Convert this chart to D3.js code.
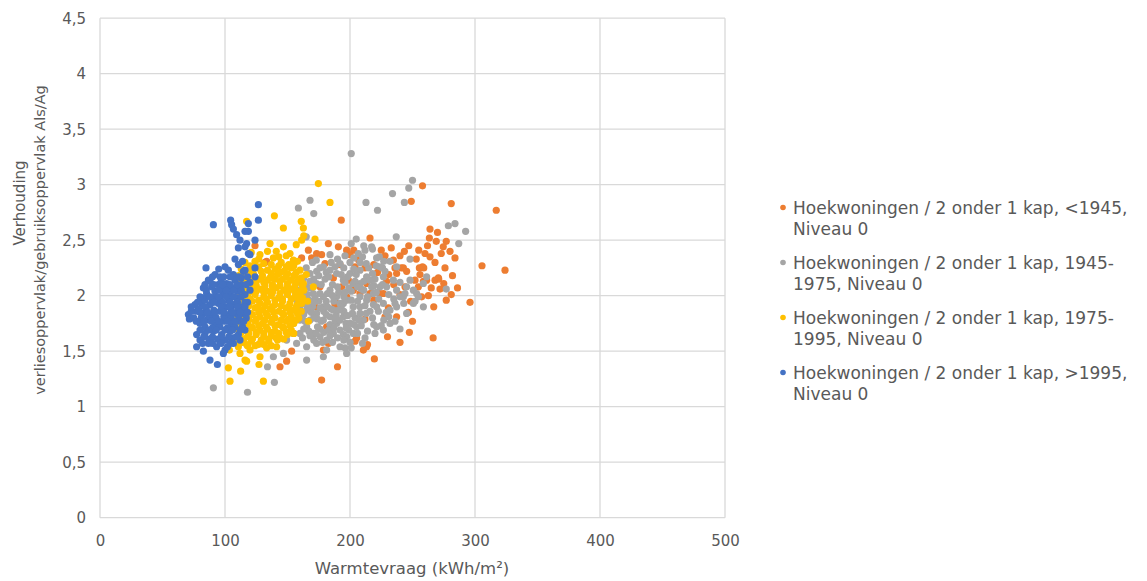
<!DOCTYPE html>
<html>
<head>
<meta charset="utf-8">
<script src="https://cdn.jsdelivr.net/npm/d3@7"></script>
<style>
body { margin: 0; background: #fff; }
text { font-family: Verdana, "DejaVu Sans", sans-serif; }
</style>
</head>
<body>
<svg width="1147" height="581"></svg>
<script>
// tick values and labels
var xTicks = [0, 100, 200, 300, 400, 500];
var yTicks = [0, 0.5, 1, 1.5, 2, 2.5, 3, 3.5, 4, 4.5];
var xTitle = "Warmtevraag (kWh/m²)";
var yTitle = ["Verhouding", "verliesoppervlak/gebruiksoppervlak Als/Ag"];

var seriesNames = [
  ["Hoekwoningen / 2 onder 1 kap, <1945,", "Niveau 0"],
  ["Hoekwoningen / 2 onder 1 kap, 1945-", "1975, Niveau 0"],
  ["Hoekwoningen / 2 onder 1 kap, 1975-", "1995, Niveau 0"],
  ["Hoekwoningen / 2 onder 1 kap, >1995,", "Niveau 0"]
];
var seriesColors = ["#ED7D31", "#A5A5A5", "#FFC000", "#4472C4"];

// <1945 (warmtevraag, verhouding)
var pre1945 = [
  [317,2.77],[305.6,2.27],[324,2.23],[296,1.94],[266.5,1.62],[281,2.83],[258,2.99],[264,2.60],[263.5,2.52],
  [269,2.49],[277,2.49],[274.6,2.44],[273,2.38],[284,2.34],[264,2.35],[258,2.26],[258.7,2.13],[268,2.14],
  [270.7,2.16],[265,2.07],[272,2.06],[262.7,2.00],[277,1.96],[281,2.01],[267,1.90],[249,2.85],[216,2.52],
  [243.5,2.40],[228,2.36],[234.7,2.32],[255.5,2.25],[259,2.25],[241,2.25],[236,2.25],[193,2.68],[203,2.41],
  [248.5,1.95],[246.7,1.85],[250,1.77],[247.5,1.67],[230,1.63],[240,1.58],[204,1.59],[210.7,1.51],[214,1.56],
  [219.5,1.43],[212,1.79],[231,1.87],[190,1.36],[271,2.15],[254.7,2.08],[240,2.01],[224,2.02],[216,2.02],
  [228,1.81],[182.7,2.47],[190.7,2.44],[197.3,2.41],[166.7,2.41],[177.3,2.37],[161.3,2.34],[133.3,2.31],
  [169.3,2.34],[242.7,2.25],[237.3,2.20],[245.3,2.22],[252,2.14],[261.3,2.14],[229.3,2.13],[213.3,2.11],
  [202.7,2.05],[197.3,1.99],[189.3,1.93],[208,2.02],[217.3,2.02],[226.7,2.02],[257.3,1.99],[230.7,1.89],
  [237.3,1.81],[205.3,1.62],[213.3,1.54],[177.3,1.24],[182.7,1.57],[178.7,1.51],[153.3,1.50],[149.3,1.41],
  [144,1.36],[173.3,2.38],[180,2.29],[192,2.28],[200,2.37],[204,2.26],[186.7,2.16],[198.7,2.14],[176,2.08],
  [193.3,2.08],[188,1.92],[172,1.90],[181.3,1.72],[260,2.38],[124,2.45],[132,2.30],
  [207,2.32],[219,2.28],[225,2.41],[233,2.43],[240,2.36],[247,2.45],[255,2.41],[268,2.30],[276,2.25],
  [282,2.18],[275,2.11],[286,2.07],[253,2.33],[262,2.45],[244,2.08],[222,2.21],[231,2.19],[212,2.25],
  [219,1.96],[235,2.10],[256,2.19],[280,2.40],[270,2.57]
];

// 1945-1975
var y1945 = [
  [201,3.28],[250,3.04],[247,2.97],[234,2.92],[243.5,2.84],[212.8,2.84],[222,2.77],[278.7,2.63],[284,2.65],
  [292.5,2.58],[287,2.47],[277,2.06],[237,2.53],[205,2.51],[201,2.47],[211,2.45],[218,2.42],[206.7,2.38],
  [223.5,2.35],[248,2.33],[226,2.25],[231,1.81],[225,1.73],[194.7,1.65],[196,1.53],[236,1.93],[218.7,1.92],
  [222.7,1.86],[208,1.90],[196.8,1.75],[194.7,1.93],[168,2.86],[158.7,2.79],[171,2.74],[165,2.53],[184,2.37],
  [173,2.32],[168,2.20],[173.3,2.22],[178.7,2.26],[184,2.23],[189.3,2.20],[192,2.29],[194.7,2.14],[200,2.20],
  [202.7,2.11],[208,2.23],[212,2.41],[217.3,2.44],[221.3,2.34],[224,2.26],[226.7,2.17],[229.3,2.08],
  [234.7,2.14],[237.3,2.05],[240,1.99],[245.3,2.08],[248,2.14],[250.7,2.05],[254.7,1.99],[258.7,2.11],
  [261.3,2.17],[165.3,2.08],[170.7,2.02],[178.7,1.99],[184,2.05],[189.3,1.99],[192,1.93],[197.3,1.96],
  [202.7,1.90],[208,1.99],[213.3,1.96],[218.7,2.02],[221.3,1.90],[226.7,1.93],[232,1.87],[237.3,1.90],
  [245.3,1.84],[250.7,1.93],[258.7,1.90],[160,1.90],[165.3,1.87],[173.3,1.84],[178.7,1.78],[184,1.81],
  [189.3,1.75],[194.7,1.81],[200,1.75],[205.3,1.72],[210.7,1.78],[165.3,1.72],[170.7,1.66],[176,1.63],
  [181.3,1.60],[186.7,1.66],[192,1.69],[197.3,1.63],[202.7,1.66],[154.7,1.66],[149.3,1.60],[157.3,1.57],
  [165.3,1.54],[173.3,1.57],[181.3,1.51],[178.7,1.45],[165.3,1.42],[146.7,1.48],[221.3,1.72],[226.7,1.69],
  [232,1.75],[237.3,2.26],[224,2.08],[208,2.11],[213.3,2.17],[217.3,2.08],[173.3,2.11],[178.7,1.90],
  [186.7,1.87],[160,1.78],[154.7,1.75],[192,1.54],[197.3,1.48],[242.7,1.99],[253.3,2.02],[162,2.02],
  [167,1.96],[171,2.15],[176,2.02],[181,1.95],[186,2.10],[191,2.03],[196,2.12],[201,2.04],[206,1.95],
  [211,2.05],[216,1.86],[163,1.83],[168,1.78],[174,1.72],[179,1.67],[184,1.74],[189,1.82],[195,1.86],
  [199,1.69],[204,1.80],[209,1.73],[214,1.68],[158,1.95],[156,1.87],[160,1.66],[170,1.90],[185,1.88],
  [175,1.95],[180,2.15],[195,2.25],[200,2.30],[215,2.25],[220,2.15],[210,2.35],[190,2.33],[185,2.30],
  [165,2.25],[170,2.30],[160,2.12],[90.7,1.17],[118,1.13],[134,1.36],[139.5,1.22],[138.7,1.45],[201,1.53],
  [158,2.05],[163,1.93],[168,2.07],[172,1.98],[177,2.10],[182,2.02],[187,1.95],[190,2.08],[195,1.99],
  [199,2.07],[204,2.13],[209,2.06],[214,1.99],[219,2.09],[223,1.97],[159,1.84],[164,1.77],[169,1.85],
  [174,1.79],[179,1.86],[183,1.69],[188,1.78],[193,1.90],[198,1.82],[203,1.74],[208,1.84],[212,1.91],
  [218,1.80],[162,1.62],[167,1.68],[171,1.60],[176,1.70],[186,1.58],[190,1.62],[206,1.66],[212,1.62],
  [163,2.16],[168,2.13],[175,2.18],[181,2.21],[188,2.26],[198,2.17],[205,2.19],[213,2.29],[218,2.20],
  [228,2.22],[232,2.31],[240,2.12],[244,2.02],[252,1.95],[243,1.93],[235,1.97],[229,1.85],[236,1.77],
  [240,1.70],[227,1.78],[220,1.66],[210,1.57],[200,1.58],
  [161,1.98],[166,2.01],[171,1.94],[176,1.89],[181,1.83],[186,2.00],[191,1.87],[196,2.03],[201,1.96],
  [206,2.08],[211,2.13],[216,2.14],[221,2.03],[226,2.10],[231,2.01],[166,1.90],[171,1.80],[177,1.77],
  [182,1.90],[187,1.71],[192,1.78],[197,1.71],[202,1.84],[207,1.78],[213,1.84],[219,1.74],[163,1.70],
  [168,1.64],[173,1.66],[178,1.58],[184,1.64],[195,1.60],[176,2.25],[183,2.17],[193,2.19],[203,2.24],
  [208,2.30],[221,2.27],[227,2.31],[203,2.34],[196,2.36]
];

// 1975-1995
var y1975 = [
  [174.7,3.01],[184,2.84],[139.5,2.72],[161,2.67],[162.7,2.61],[146.7,2.61],[117.3,2.67],[172,2.51],
  [163,2.54],[136,2.47],[146.7,2.44],[157,2.46],[154.7,2.32],[138.7,2.34],[161.3,2.50],[162.7,2.11],
  [170.7,2.08],[166.7,1.77],[161.3,1.93],[127,2.33],[134,2.40],[152,2.38],[143,2.35],[165,2.19],[166,1.95],
  [102.7,1.35],[104,1.23],[112.5,1.32],[117.3,1.41],[127.2,1.38],[130.7,1.23],[103.5,1.51],[112,1.48],
  [120,1.51],[128,1.45],[133.3,1.53],[141.3,1.54],[109.3,1.59],[117.3,1.56],[126.7,1.56],[116,1.42],[110.7,1.54],
  [121,2.39],[128,2.37],[141,2.40],[149,2.36],
  [116,2.30],[124,2.31],[131,2.29],[145,2.30],[151,2.28],[158,2.31],
  [113,2.24],[119,2.23],[126,2.25],[134,2.23],[140,2.24],[147,2.22],[153,2.25],[160,2.23],
  [111,2.18],[117,2.17],[123,2.19],[130,2.18],[136,2.16],[142,2.19],[149,2.17],[155,2.18],[161,2.16],
  [112,2.12],[118,2.11],[125,2.13],[131,2.12],[138,2.10],[144,2.13],[150,2.11],[157,2.12],[163,2.05],
  [110,2.06],[116,2.05],[122,2.07],[128,2.06],[134,2.04],[141,2.07],[147,2.05],[153,2.06],[159,2.04],
  [112,2.00],[118,1.99],[124,2.01],[131,1.99],[137,2.00],[143,1.98],[150,2.01],[156,1.99],[162,1.98],
  [110,1.94],[116,1.93],[122,1.95],[128,1.93],[134,1.94],[140,1.92],[146,1.95],[152,1.93],[158,1.92],
  [111,1.88],[117,1.87],[124,1.89],[130,1.87],[136,1.88],[143,1.86],[149,1.89],[155,1.87],[161,1.86],
  [110,1.82],[116,1.81],[122,1.83],[128,1.81],[134,1.82],[140,1.80],[147,1.83],[153,1.81],[159,1.80],
  [112,1.76],[118,1.75],[124,1.77],[130,1.75],[137,1.76],[143,1.74],[149,1.77],[155,1.75],
  [110,1.70],[116,1.69],[122,1.71],[128,1.69],[134,1.70],[140,1.68],[147,1.71],[153,1.69],
  [112,1.64],[118,1.63],[125,1.65],[131,1.63],[137,1.64],[144,1.62],[150,1.65],
  [114,1.58],[121,1.59],[128,1.57],[135,1.59],[142,1.60],
  [120,2.27],[127,2.26],[137,2.28],[143,2.27],[149,2.26],[155,2.27],
  [115,2.21],[122,2.21],[129,2.22],[137,2.20],[144,2.21],[150,2.20],[157,2.21],
  [114,2.15],[120,2.14],[127,2.15],[134,2.14],[140,2.15],[146,2.15],[153,2.14],[159,2.15],
  [113,2.09],[119,2.08],[125,2.09],[132,2.09],[138,2.08],[144,2.09],[150,2.08],[156,2.09],[162,2.09],
  [113,2.03],[119,2.03],[125,2.04],[131,2.03],[138,2.03],[144,2.02],[150,2.03],[156,2.03],[160,2.01],
  [114,1.97],[120,1.97],[127,1.96],[133,1.97],[140,1.96],[146,1.97],[153,1.97],[159,1.96],
  [113,1.91],[119,1.91],[126,1.90],[132,1.91],[138,1.90],[145,1.91],[151,1.90],[157,1.90],
  [114,1.85],[120,1.84],[127,1.85],[133,1.84],[139,1.85],[146,1.84],[152,1.85],[158,1.84],
  [113,1.79],[119,1.78],[125,1.79],[132,1.78],[138,1.79],[145,1.78],[151,1.79],[157,1.78],
  [114,1.73],[121,1.72],[127,1.73],[133,1.72],[140,1.73],[146,1.72],[152,1.73],
  [113,1.67],[119,1.66],[125,1.67],[131,1.66],[137,1.67],[143,1.66],[149,1.67],[155,1.66],
  [115,1.61],[122,1.61],[129,1.60],[135,1.61],[141,1.62],[147,1.61],
  [118,1.55],[124,1.55],[131,1.56],[137,1.55]
];

// >1995
var post1995 = [
  [90.7,2.64],[104.5,2.68],[105.3,2.64],[106.7,2.60],[109.3,2.55],[112,2.50],[116,2.44],[110.7,2.43],
  [118.7,2.38],[118.7,2.65],[126.7,2.82],[126.7,2.68],[118.7,2.58],[124,2.50],[117.3,2.47],[120,2.37],
  [116,2.58],[84.8,2.25],[92,2.19],[96,2.17],[102.7,2.23],[106.7,2.19],[110.7,2.28],[114.7,2.22],
  [124,2.25],[124,2.17],[116,2.23],[86.7,2.14],[82.7,2.07],[89.3,2.08],[94.7,2.10],[101.3,2.11],
  [106.7,2.07],[113.3,2.10],[85.3,2.02],[92,1.99],[98.7,2.01],[104,2.02],[109.3,1.98],[116,2.01],
  [76,1.92],[81.3,1.93],[88,1.92],[94.7,1.93],[101.3,1.90],[106.7,1.92],[113.3,1.90],[70.7,1.83],
  [71.5,1.79],[77.3,1.86],[82.7,1.84],[89.3,1.83],[96,1.86],[102.7,1.83],[109.3,1.84],[80,1.75],
  [85.3,1.78],[92,1.74],[98.7,1.77],[105.3,1.74],[112,1.77],[77.3,1.65],[84,1.66],[90.7,1.68],
  [97.3,1.65],[104,1.68],[110.7,1.65],[116,1.69],[77.3,1.54],[82.7,1.50],[86.7,1.57],[93.3,1.54],
  [100,1.51],[106.7,1.57],[88,1.42],[93.9,1.38],[98.7,1.48],[84,1.96],[90,1.96],[96,1.97],[103,1.96],
  [79,1.88],[85,1.88],[91,1.87],[99,1.89],[105,1.87],[111,1.88],[115,1.84],[75,1.80],[81,1.80],
  [87,1.80],[93,1.80],[99,1.81],[105,1.80],[111,1.81],[84,1.72],[90,1.71],[96,1.72],[102,1.71],
  [108,1.72],[87,1.61],[94,1.61],[100,1.60],[106,1.62],[92,2.04],[98,2.06],[104,2.08],[110,2.04],
  [88,2.13],[97,2.13],[108,2.14],[113,2.16],[120,2.05],[118,1.94],[117,1.80],[114,1.72],[120,2.12],
  [100,2.26],[108,2.33],[114,2.31],[95,2.24],[82,1.98],[73,1.86],[80,1.60],[112,1.60],[96,1.58],[102,1.54],
  [85,2.05],[95,2.05],[101,2.05],[107,2.05],[113,2.05],[80,1.99],[88,1.99],[95,1.99],[101,1.99],
  [107,1.99],[113,1.99],[78,1.94],[91,1.94],[98,1.94],[104,1.94],[110,1.94],[116,1.94],[73,1.90],
  [84,1.90],[97,1.90],[104,1.90],[110,1.90],[116,1.90],[80,1.85],[86,1.85],[92,1.85],[99,1.85],
  [106,1.85],[112,1.85],[118,1.85],[77,1.77],[83,1.77],[89,1.77],[95,1.77],[102,1.77],[108,1.77],
  [115,1.77],[80,1.69],[87,1.69],[93,1.69],[100,1.69],[106,1.69],[112,1.69],[83,1.63],[90,1.63],
  [97,1.63],[103,1.63],[109,1.63],[84,2.10],[91,2.10],[98,2.10],[104,2.10],[110,2.10],[117,2.10],
  [90,2.17],[99,2.17],[104,2.17],[111,2.17],[118,2.17],[82,1.57],[90,1.57],[97,1.57],[104,1.57]
];

var allSeries = [pre1945, y1945, y1975, post1995];

var svg = d3.select("svg"),
    width = +svg.attr("width"),
    height = +svg.attr("height");

var x = d3.scaleLinear()
    .domain([0, 500])
    .range([100, 725]);

var y = d3.scaleLinear()
    .domain([0, 4.5])
    .range([517.7, 18.2]);

var gridColor = "#d9d9d9",
    labelColor = "#595959";

// gridlines
svg.append("g")
  .selectAll("line")
  .data(yTicks)
  .enter().append("line")
    .attr("x1", x(0))
    .attr("x2", x(500))
    .attr("y1", function(d) { return y(d); })
    .attr("y2", function(d) { return y(d); })
    .attr("stroke", gridColor)
    .attr("stroke-width", 1.3);

svg.append("g")
  .selectAll("line")
  .data(xTicks)
  .enter().append("line")
    .attr("x1", function(d) { return x(d); })
    .attr("x2", function(d) { return x(d); })
    .attr("y1", y(0))
    .attr("y2", y(4.5))
    .attr("stroke", gridColor)
    .attr("stroke-width", 1.3);

// axes (labels only)
var yAxis = svg.append("g")
    .attr("transform", "translate(" + x(0) + ",0)")
    .call(d3.axisLeft(y)
      .tickValues(yTicks)
      .tickSize(0)
      .tickPadding(14)
      .tickFormat(function(d) { return String(d).replace(".", ","); }));

var xAxis = svg.append("g")
    .attr("transform", "translate(0," + y(0) + ")")
    .call(d3.axisBottom(x)
      .tickValues(xTicks)
      .tickSize(0)
      .tickPadding(18)
      .tickFormat(function(d) { return d; }));

[yAxis, xAxis].forEach(function(a) {
  a.select(".domain").remove();
  a.selectAll("text")
    .attr("fill", labelColor)
    .style("font-size", "15px")
    .style("font-family", "Verdana, 'DejaVu Sans', sans-serif");
});

// axis titles
svg.append("text")
    .attr("x", 412)
    .attr("y", 574)
    .attr("text-anchor", "middle")
    .attr("fill", labelColor)
    .style("font-size", "16.5px")
    .text(xTitle);

svg.append("text")
    .attr("transform", "translate(25,203) rotate(-90)")
    .attr("text-anchor", "middle")
    .attr("fill", labelColor)
    .style("font-size", "15px")
    .text(yTitle[0]);

svg.append("text")
    .attr("transform", "translate(45,240) rotate(-90)")
    .attr("text-anchor", "middle")
    .attr("fill", labelColor)
    .style("font-size", "14.5px")
    .text(yTitle[1]);

// points, oldest series first so >1995 is on top
allSeries.forEach(function(pts, i) {
  svg.append("g")
    .selectAll("circle")
    .data(pts)
    .enter().append("circle")
      .attr("cx", function(d) { return x(d[0]); })
      .attr("cy", function(d) { return y(d[1]); })
      .attr("r", 3.6)
      .attr("fill", seriesColors[i]);
});

// legend
var legend = svg.append("g")
    .attr("transform", "translate(783,0)");

var entry = legend.selectAll("g")
    .data(seriesNames)
    .enter().append("g")
    .attr("transform", function(d, i) { return "translate(0," + (214 + i * 55) + ")"; });

entry.append("circle")
    .attr("cx", 0)
    .attr("cy", -6.5)
    .attr("r", 2.8)
    .attr("fill", function(d, i) { return seriesColors[i]; });

entry.append("text")
    .attr("x", 10)
    .attr("y", 0)
    .attr("fill", labelColor)
    .style("font-size", "17px")
    .text(function(d) { return d[0]; });

entry.append("text")
    .attr("x", 10)
    .attr("y", 20.5)
    .attr("fill", labelColor)
    .style("font-size", "17px")
    .text(function(d) { return d[1]; });
</script>
</body>
</html>
